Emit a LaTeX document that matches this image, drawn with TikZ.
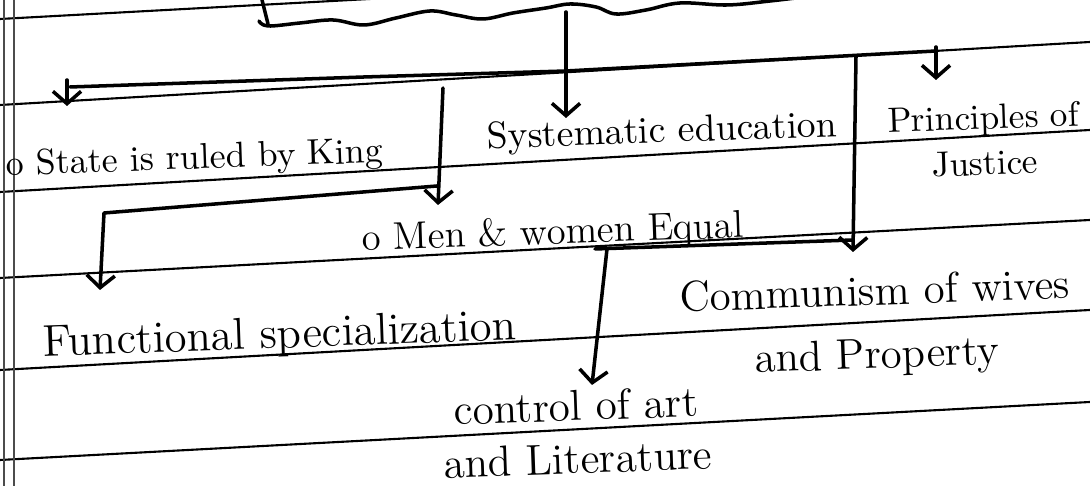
\documentclass[tikz,border=0pt]{standalone}
\usepackage{tikz}
\usetikzlibrary{arrows.meta,calc}

\begin{document}
\begin{tikzpicture}[
  x=0.01cm, y=-0.01cm,
  >={Straight Barb[length=3.5pt,width=8pt]},
  rule/.style={line width=0.6pt},
  margin/.style={line width=0.4pt,black!70},
  pen/.style={line width=1pt,line cap=round,line join=round},
  arrow/.style={pen,->},
  note/.style={inner sep=1pt,align=center,rotate=2,font=\fontsize{#1}{15}\selectfont},
  note/.default=11
]
  \useasboundingbox (0,0) rectangle (1090,486);
  \begin{scope}
    \clip (0,0) rectangle (1090,486);
    % ruled page
    \foreach \l/\r in {19/-40,105/42,192/130,278/220,370/310,460/402}
      \draw[rule] (0,\l) -- (1090,\r);
    \draw[margin] (4,0) -- (4,486);
    \draw[margin] (14,0) -- (14,486);
    % foot of the brace above
    \draw[pen] (262,0) -- (268,24);
    \draw[pen] plot[smooth,tension=0.6] coordinates {(259,21) (268,26) (300,23) (333,20)
      (364,25) (396,18) (430,11) (456,15) (483,19) (513,13) (546,8) (570,4) (596,7)
      (616,14) (646,10) (680,3) (727,5) (770,1) (812,-4)};
  \end{scope}

  \node[note=10.2] (state) at (195,160) {o State is ruled by King};
  \node[note=10.7] (sysedu) at (662,133) {Systematic education};
  \node[note=10] (justice) at (984,140) {Principles of\\[-2pt]Justice};
  \node[note=11] (equal) at (553,234) {o Men \& women Equal};
  \node[note=12.7] (funcspec) at (280,337) {Functional specialization};
  \node[note=12.2] (communism) at (876,326) {Communism of wives\\[3pt]and Property};
  \node[note=12.3] (control) at (577,432) {control of art\\[0pt]and Literature};

  \coordinate (waveM) at (566,12);
  \coordinate (barL) at (70,87);
  \coordinate (barM) at (566,71);
  \coordinate (barR) at (936,51);
  \coordinate (kingR) at (437,186);
  \coordinate (lowR) at (853,240);
  \coordinate (lowL) at (607,249);

  % main bar
  \draw[pen] (barL) -- (364,77) -- (barM) -- (barR);
  \draw[arrow] (waveM) -- (566,118);
  \draw[arrow] (67,80) -- (67,106);
  \draw[arrow] (936,47) -- (936,80);
  \draw[arrow] (443,88) -- (438,205);
  \draw[arrow] (kingR) -- (104,213) -- (100,290);
  \draw[arrow] (856,57) -- (853,252);
  % lower bar
  \draw[pen] (lowR) -- (595,249);
  \draw[arrow] (lowL) -- (592,385);
\end{tikzpicture}
\end{document}
